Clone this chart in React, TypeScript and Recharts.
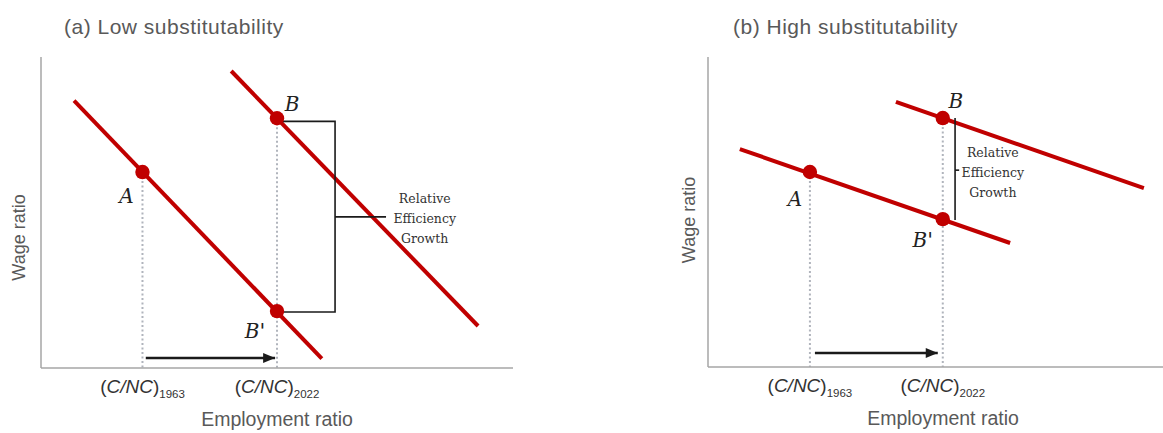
import React from 'react';
import { ComposedChart, Line, Scatter, XAxis, YAxis, ReferenceDot } from 'recharts';

// ---------- text ----------
const TITLES = ['(a) Low substitutability', '(b) High substitutability'];
const X_LABEL = 'Employment ratio';
const Y_LABEL = 'Wage ratio';
const TICK_SUBSCRIPTS = ['1963', '2022'];
const NOTE_LINES = ['Relative', 'Efficiency', 'Growth'];

// ---------- panel (a): low substitutability ----------
const A_CURVE_OLD = [{ x: 7, y: 86 }, { x: 59.5, y: 3 }];
const A_CURVE_NEW = [{ x: 40.3, y: 95.5 }, { x: 92.6, y: 13.5 }];
const A_POINTS = [
  { x: 21.5, y: 63, name: 'A' },
  { x: 50, y: 80.3, name: 'B' },
  { x: 50, y: 18.3, name: 'B′' },
];
const A_TICKS = [21.5, 50];
const A_ARROW = [{ x: 22.2, y: 3.2 }, { x: 49.6, y: 3.2 }];
const A_BRACKET = [{ x: 50, y: 79.3 }, { x: 62.3, y: 79.3 }, { x: 62.3, y: 18 }, { x: 50, y: 18 }];
const A_BRACKET_STEM = [{ x: 62.3, y: 48.6 }, { x: 73.1, y: 48.6 }];
const A_NOTE = { x: 81.3, y: 48.2 };

// ---------- panel (b): high substitutability ----------
const B_CURVE_OLD = [{ x: 7, y: 70.3 }, { x: 66.4, y: 40 }];
const B_CURVE_NEW = [{ x: 41.3, y: 85.5 }, { x: 95.8, y: 57.7 }];
const B_POINTS = [
  { x: 22.4, y: 62.9, name: 'A' },
  { x: 51.6, y: 80.3, name: 'B' },
  { x: 51.6, y: 47.7, name: 'B′' },
];
const B_TICKS = [22.4, 51.6];
const B_ARROW = [{ x: 23.5, y: 4.5 }, { x: 50.5, y: 4.5 }];
const B_BRACKET = [{ x: 54.3, y: 80.3 }, { x: 54.3, y: 47.4 }];
const B_BRACKET_STEM = [{ x: 54.3, y: 63.5 }, { x: 55.2, y: 63.5 }];
const B_NOTE = { x: 62.6, y: 62.9 };

// ---------- styles ----------
const RED = '#C00000';
const AXIS = '#a6a6a6';
const DOTTED = '#b0b4bc';
const INK = '#1a1a1a';
const SANS = '"Liberation Sans", Arial, sans-serif';
const SERIF = '"DejaVu Serif", "Liberation Serif", serif';
const Y_AXIS_W = 20;

const verticalsFor = (ticks: number[], points: { x: number; y: number }[]) =>
  ticks.map((t) => {
    const top = Math.max(...points.filter((p) => p.x === t).map((p) => p.y));
    return [{ x: t, y: top }, { x: t, y: 0 }];
  });

const CncTick = (props: any) => {
  const { x, y, index } = props;
  return (
    <text x={x} y={y + 25} textAnchor="middle" fontFamily={SANS} fontSize={19} fill="#333">
      <tspan>(</tspan>
      <tspan fontStyle="italic">C/NC</tspan>
      <tspan>)</tspan>
      <tspan fontSize={11.5} dy={5}>{TICK_SUBSCRIPTS[index]}</tspan>
    </text>
  );
};

const arrowDot = (props: any) => {
  const { cx, cy, index } = props;
  if (index !== 1) return <g key={`ad${index}`} />;
  return (
    <polygon
      key={`ad${index}`}
      points={`${cx - 12},${cy - 5} ${cx},${cy} ${cx - 12},${cy + 5}`}
      fill={INK}
    />
  );
};

type Offsets = Record<string, { dx: number; dy: number }>;

const makePointShape = (offsets: Offsets) => (props: any) => {
  const { cx, cy, payload } = props;
  const o = offsets[payload.name];
  const name: string = payload.name;
  const hasPrime = name.endsWith('′');
  return (
    <g>
      <circle cx={cx} cy={cy} r={7.2} fill={RED} />
      <text
        x={cx + o.dx}
        y={cy + o.dy}
        textAnchor="middle"
        fontFamily={SERIF}
        fontStyle="italic"
        fontSize={20}
        fill="#222"
      >
        {hasPrime ? name.slice(0, -1) : name}
        {hasPrime ? <tspan fontSize={21}>'</tspan> : null}
      </text>
    </g>
  );
};

const NoteShape = (props: any) => {
  const { cx, cy } = props;
  return (
    <text textAnchor="middle" fontFamily={SERIF} fontSize={12.5} fill="#333">
      {NOTE_LINES.map((t, i) => (
        <tspan key={i} x={cx} y={cy + (i - 1) * 20 + 5}>
          {t}
        </tspan>
      ))}
    </text>
  );
};

interface PanelCfg {
  left: number;
  width: number;
  plotLeft: number;
  marginRight: number;
  xAxisHeight: number;
  oldCurve: { x: number; y: number }[];
  newCurve: { x: number; y: number }[];
  points: { x: number; y: number; name: string }[];
  ticks: number[];
  arrow: { x: number; y: number }[];
  bracket: { x: number; y: number }[];
  stem: { x: number; y: number }[];
  note: { x: number; y: number };
  offsets: Offsets;
  xLabelDx: number;
  yLabelDx: number;
  yLabelDy: number;
}

const Panel = ({ cfg }: { cfg: PanelCfg }) => {
  const verticals = verticalsFor(cfg.ticks, cfg.points);
  const xLabel = (p: any) => {
    const vb = p.viewBox || {};
    const x = (vb.x ?? cfg.plotLeft) + (vb.width ?? 0) / 2 + cfg.xLabelDx;
    const y = (vb.y ?? 368) + 58;
    return (
      <text x={x} y={y} textAnchor="middle" fontFamily={SANS} fontSize={19.5} fill="#595959">
        {X_LABEL}
      </text>
    );
  };
  const yLabel = (p: any) => {
    const vb = p.viewBox || {};
    const x = (vb.x ?? cfg.plotLeft - Y_AXIS_W) + (vb.width ?? Y_AXIS_W) + cfg.yLabelDx;
    const y = (vb.y ?? 57) + (vb.height ?? 311) / 2 + cfg.yLabelDy;
    return (
      <text
        x={x}
        y={y}
        transform={`rotate(-90 ${x} ${y})`}
        textAnchor="middle"
        fontFamily={SANS}
        fontSize={18}
        fill="#595959"
      >
        {Y_LABEL}
      </text>
    );
  };
  const common = { dataKey: 'y', dot: false, activeDot: false, isAnimationActive: false, legendType: 'none' as const };
  return (
    <div style={{ position: 'absolute', left: cfg.left, top: 0 }}>
      <ComposedChart
        width={cfg.width}
        height={433}
        margin={{ top: 57, right: cfg.marginRight, left: cfg.plotLeft - Y_AXIS_W, bottom: 0 }}
      >
        <XAxis
          type="number"
          dataKey="x"
          domain={[0, 100]}
          allowDataOverflow
          ticks={cfg.ticks}
          interval={0}
          height={cfg.xAxisHeight}
          tickLine={false}
          tickSize={0}
          tickMargin={0}
          axisLine={{ stroke: AXIS, strokeWidth: 1.5 }}
          tick={<CncTick />}
          label={{ content: xLabel }}
        />
        <YAxis
          type="number"
          dataKey="y"
          domain={[0, 100]}
          allowDataOverflow
          width={Y_AXIS_W}
          ticks={[]}
          tick={false}
          tickLine={false}
          axisLine={{ stroke: AXIS, strokeWidth: 1.5 }}
          label={{ content: yLabel }}
        />
        {verticals.map((v, i) => (
          <Line
            key={`v${i}`}
            data={v}
            {...common}
            stroke={DOTTED}
            strokeWidth={2}
            strokeDasharray="2 2.5"
          />
        ))}
        <Line data={cfg.oldCurve} {...common} stroke={RED} strokeWidth={4} />
        <Line data={cfg.newCurve} {...common} stroke={RED} strokeWidth={4} />
        <Line data={cfg.bracket} {...common} stroke={INK} strokeWidth={1.6} />
        <Line data={cfg.stem} {...common} stroke={INK} strokeWidth={1.6} />
        <Line data={cfg.arrow} {...common} dot={arrowDot} stroke={INK} strokeWidth={2.5} />
        <Scatter data={cfg.points} shape={makePointShape(cfg.offsets)} isAnimationActive={false} />
        <ReferenceDot x={cfg.note.x} y={cfg.note.y} r={0} shape={NoteShape} ifOverflow="visible" />
      </ComposedChart>
    </div>
  );
};

const PANEL_A: PanelCfg = {
  left: 0,
  width: 540,
  plotLeft: 41,
  marginRight: 27,
  xAxisHeight: 65,
  oldCurve: A_CURVE_OLD,
  newCurve: A_CURVE_NEW,
  points: A_POINTS,
  ticks: A_TICKS,
  arrow: A_ARROW,
  bracket: A_BRACKET,
  stem: A_BRACKET_STEM,
  note: A_NOTE,
  offsets: { A: { dx: -16, dy: 31 }, B: { dx: 15, dy: -7 }, 'B′': { dx: -22, dy: 27 } },
  xLabelDx: 0,
  yLabelDx: -16,
  yLabelDy: 25,
};

const PANEL_B: PanelCfg = {
  left: 560,
  width: 603,
  plotLeft: 148,
  marginRight: 0,
  xAxisHeight: 66,
  oldCurve: B_CURVE_OLD,
  newCurve: B_CURVE_NEW,
  points: B_POINTS,
  ticks: B_TICKS,
  arrow: B_ARROW,
  bracket: B_BRACKET,
  stem: B_BRACKET_STEM,
  note: B_NOTE,
  offsets: { A: { dx: -15, dy: 34 }, B: { dx: 13, dy: -10 }, 'B′': { dx: -20, dy: 28 } },
  xLabelDx: 7.5,
  yLabelDx: -13,
  yLabelDy: 8,
};

const titleStyle = (left: number): React.CSSProperties => ({
  position: 'absolute',
  left,
  top: 16,
  fontFamily: SANS,
  fontSize: 21,
  lineHeight: '21px',
  letterSpacing: 0.5,
  color: '#595959',
  whiteSpace: 'nowrap',
});

export default function App() {
  return (
    <div style={{ position: 'absolute', left: 0, top: 0, width: 1163, height: 433, background: '#fff', overflow: 'hidden' }}>
      <div style={titleStyle(64)}>{TITLES[0]}</div>
      <div style={titleStyle(733)}>{TITLES[1]}</div>
      <Panel cfg={PANEL_A} />
      <Panel cfg={PANEL_B} />
    </div>
  );
}
